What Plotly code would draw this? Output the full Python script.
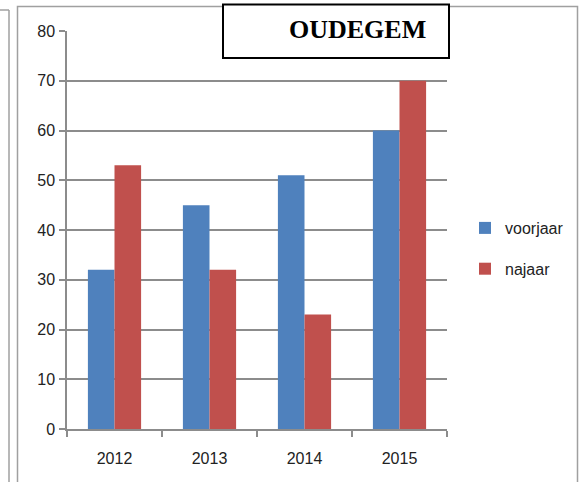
import plotly.graph_objects as go

years = ["2012", "2013", "2014", "2015"]
voorjaar = [32, 45, 51, 60]
najaar = [53, 32, 23, 70]
series_names = ["voorjaar", "najaar"]
colors = ["#4F81BD", "#C0504D"]
title_text = "OUDEGEM"

W, H = 584, 482
L, R, T, B = 67, 447, 31, 429

def px(x):
    return (x - L) / (R - L)

def py(y):
    return (B - y) / (B - T)

fig = go.Figure()
for i, (name, vals) in enumerate(zip(series_names, [voorjaar, najaar])):
    fig.add_trace(go.Bar(
        x=years, y=vals, name=name, legendgroup=name,
        marker=dict(color=colors[i], line=dict(width=0)),
    ))

grid = "#8c8c8c"
fig.update_layout(
    width=W, height=H,
    margin=dict(l=L, r=W - R, t=T, b=H - B, pad=0),
    paper_bgcolor="white", plot_bgcolor="white",
    barmode="group", bargap=0.44, bargroupgap=0,
    font=dict(family="Liberation Sans, Arial, sans-serif", size=16, color="#222"),
    showlegend=True,
    legend=dict(x=px(465), y=py(211), xanchor="left", yanchor="top",
                tracegroupgap=17, font=dict(size=16, color="#222"),
                itemwidth=30, bgcolor="rgba(0,0,0,0)"),
    xaxis=dict(showgrid=False, showline=True, linecolor=grid, linewidth=1.5,
               ticks="outside", tickson="boundaries", ticklen=6, tickcolor=grid,
               tickwidth=1.5, tickfont=dict(size=16, color="#222"),
               ticklabelstandoff=14),
    yaxis=dict(range=[0, 80], dtick=10, showgrid=True, gridcolor=grid, gridwidth=1.5,
               showline=True, linecolor=grid, linewidth=1.5, ticks="outside",
               ticklen=6, tickcolor=grid, tickwidth=1.5, zeroline=False,
               tickfont=dict(size=16, color="#222"), ticklabelstandoff=1),
)

shapes = [
    # outer frame
    dict(type="rect", xref="paper", yref="paper",
         x0=px(17.5), x1=px(577.5), y0=py(495), y1=py(6.5),
         line=dict(color="#a0a0a0", width=1.5), fillcolor="rgba(0,0,0,0)", layer="below"),
    # left partial frame
    dict(type="line", xref="paper", yref="paper",
         x0=px(9), x1=px(9), y0=py(495), y1=py(10),
         line=dict(color="#a0a0a0", width=1.5)),
    dict(type="line", xref="paper", yref="paper",
         x0=px(-5), x1=px(9), y0=py(10), y1=py(10),
         line=dict(color="#a0a0a0", width=1.5)),
    # title box
    dict(type="rect", xref="paper", yref="paper",
         x0=px(223), x1=px(449), y0=py(58), y1=py(4.5),
         line=dict(color="black", width=2), fillcolor="white", layer="above"),
]
fig.update_layout(shapes=shapes)
fig.add_annotation(xref="paper", yref="paper", x=px(357), y=py(29),
                   text="<b>" + title_text + "</b>", showarrow=False,
                   xanchor="center", yanchor="middle",
                   font=dict(family="Liberation Serif, Times New Roman, serif",
                             size=26, color="black"))

fig.write_html("out.html", config={"displayModeBar": False},
               post_script="document.body.style.margin='0';")
